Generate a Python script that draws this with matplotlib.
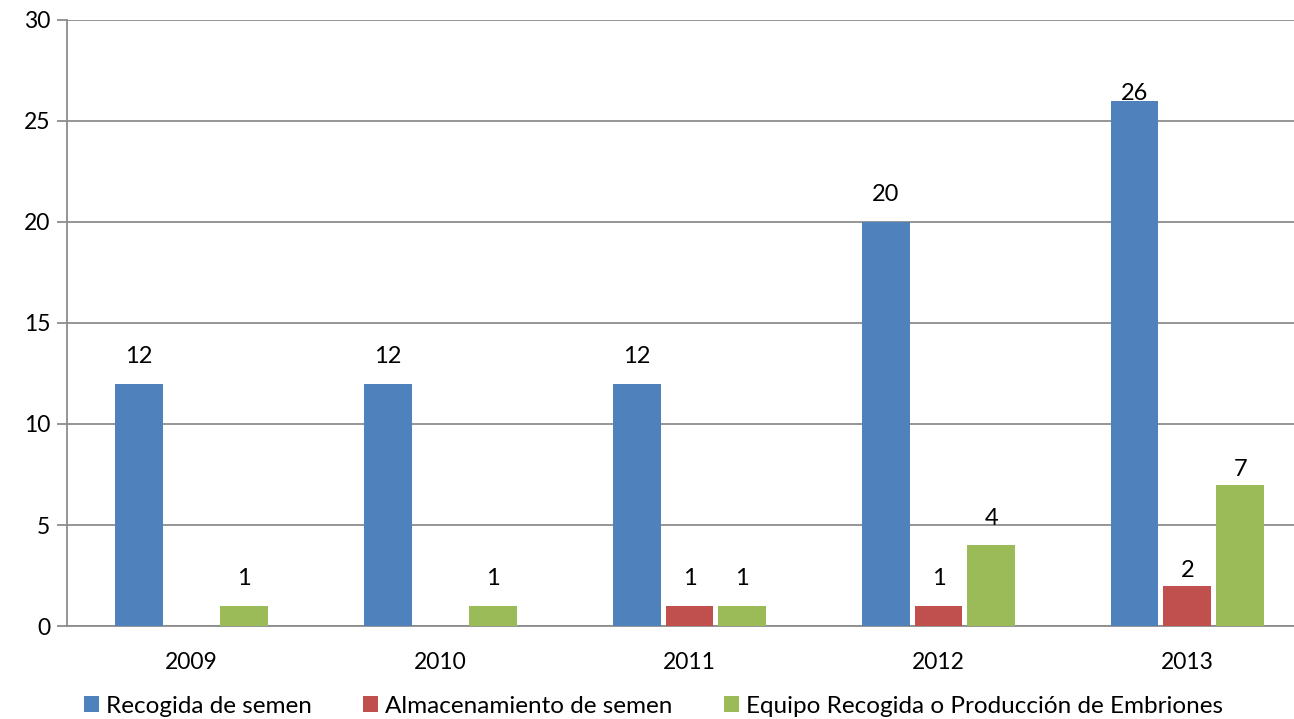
import matplotlib
matplotlib.use('Agg')
import matplotlib.pyplot as plt
import numpy as np

# data
years = ['2009', '2010', '2011', '2012', '2013']
series_names = ['Recogida de semen', 'Almacenamiento de semen',
                'Equipo Recogida o Producción de Embriones']
recogida = [12, 12, 12, 20, 26]
almacenamiento = [0, 0, 1, 1, 2]
equipo = [1, 1, 1, 4, 7]
colors = ['#4F81BD', '#C0504D', '#9BBB59']

plt.rcParams['font.family'] = ['Lato', 'DejaVu Sans']

fig = plt.figure(figsize=(12.94, 7.19), dpi=100)
# plot area runs past the right edge of the picture, like the original crop
ax = fig.add_axes([0.0518, 0.1293, 0.962, 0.843])

x = np.arange(len(years))
width = 0.192
step = 0.212
grey = '#8c8c8c'

for i, (vals, name, c) in enumerate(zip([recogida, almacenamiento, equipo], series_names, colors)):
    pos = x + (i - 1) * step
    ax.bar(pos, vals, width, color=c, label=name, zorder=3)
    for j, (p, v) in enumerate(zip(pos, vals)):
        if v == 0:
            continue
        # excel squeezes the last group's labels closer to the bars
        off = 3 if j == len(years) - 1 else 12
        if v == max(recogida):
            off = -2
        ax.annotate(str(v), (p, v), xytext=(0, off), textcoords='offset points',
                    ha='center', va='bottom', fontsize=17, color='black', zorder=4)

ax.set_xlim(-0.5, len(years) - 0.5)
ax.set_ylim(0, 30)
ax.set_yticks(range(0, 31, 5))
ax.set_xticks(x)
ax.set_xticklabels(years)
ax.yaxis.grid(True, color=grey, linewidth=1.3, zorder=0)
ax.tick_params(axis='y', length=7, color=grey, width=1.3, labelsize=16.5, pad=5)
ax.tick_params(axis='x', length=0, labelsize=16.5, pad=19)
for s in ['top', 'right']:
    ax.spines[s].set_visible(False)
for s in ['left', 'bottom']:
    ax.spines[s].set_color(grey)
    ax.spines[s].set_linewidth(1.3)

fig.legend(loc='center', bbox_to_anchor=(0.505, 0.018), ncol=3, frameon=False,
           fontsize=17.5, handlelength=0.62, handleheight=0.62, handletextpad=0.29,
           columnspacing=2.1, borderpad=0, borderaxespad=0)

plt.savefig('out.png')
